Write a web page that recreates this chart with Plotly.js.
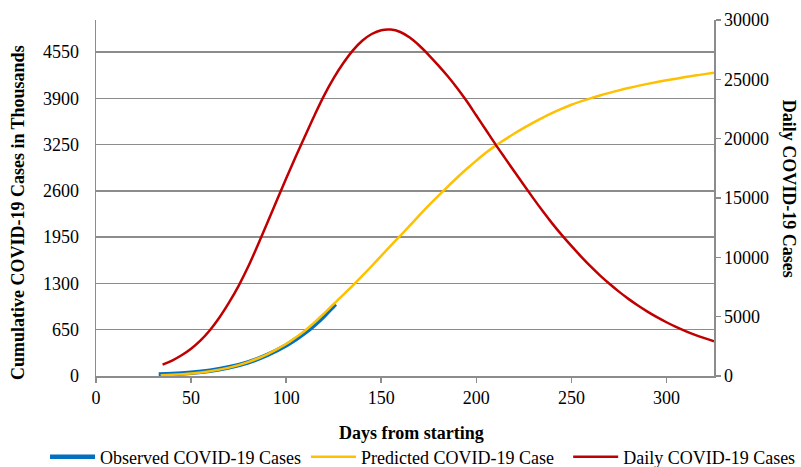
<!DOCTYPE html>
<html>
<head>
<meta charset="utf-8">
<script src="https://cdn.plot.ly/plotly-3.0.1.min.js"></script>
<style>html,body{margin:0;padding:0;background:#fff}#chart{width:801px;height:467px}</style>
</head>
<body>
<div id="chart"></div>
<script>
// Observed cumulative cases (thousands)
const obsDays = [33, 40, 50, 60, 70, 80, 90, 100, 105, 110, 115, 120, 125, 126];
const obsCum  = [22, 27, 45, 75, 122, 192, 295, 430, 515, 610, 720, 845, 985, 1010];

// Predicted cumulative cases (thousands)
const predDays = [34, 40, 50, 60, 70, 80, 90, 100, 105, 110, 115, 120, 125, 130, 135, 140, 145, 150, 155, 160, 165, 170, 175, 180, 185, 190, 195, 200, 205, 210, 215, 220, 225, 230, 235, 240, 245, 250, 255, 260, 265, 270, 275, 280, 285, 290, 295, 300, 305, 310, 315, 320, 325];
const predCum  = [12, 18, 36, 68, 118, 195, 305, 450, 540, 640, 755, 880, 1010, 1140, 1270, 1405, 1545, 1688, 1830, 1970, 2112, 2255, 2395, 2530, 2660, 2788, 2910, 3025, 3135, 3232, 3320, 3405, 3485, 3560, 3630, 3695, 3755, 3810, 3857, 3900, 3940, 3977, 4012, 4045, 4075, 4103, 4129, 4153, 4176, 4198, 4219, 4240, 4260];

// Daily cases
const dailyDays = [35, 40, 45, 50, 55, 60, 65, 70, 75, 80, 85, 90, 95, 100, 105, 110, 115, 120, 125, 130, 135, 140, 145, 150, 155, 160, 165, 170, 175, 180, 185, 190, 195, 200, 205, 210, 215, 220, 225, 230, 235, 240, 245, 250, 255, 260, 265, 270, 275, 280, 285, 290, 295, 300, 305, 310, 315, 320, 325];
const dailyVal  = [960, 1300, 1750, 2300, 3000, 3880, 4950, 6200, 7600, 9200, 11000, 12870, 14760, 16640, 18470, 20250, 22000, 23650, 25100, 26350, 27420, 28250, 28820, 29140, 29190, 28990, 28520, 27850, 27050, 26180, 25260, 24250, 23150, 21950, 20750, 19540, 18380, 17230, 16090, 14970, 13880, 12840, 11870, 10960, 10080, 9250, 8480, 7770, 7110, 6500, 5940, 5430, 4960, 4530, 4140, 3790, 3470, 3190, 2930];

const leftTicks = [0, 650, 1300, 1950, 2600, 3250, 3900, 4550];
const rightTicks = [0, 5000, 10000, 15000, 20000, 25000, 30000];
const xTicks = [0, 50, 100, 150, 200, 250, 300];

const FONT = 'Liberation Serif, Times New Roman, serif';
const GRID = '#8c8c8c';
const FS = 18;

const traces = [
  {x: obsDays, y: obsCum, type: 'scatter', mode: 'lines', name: 'Observed COVID-19 Cases',
   line: {color: '#0070C0', width: 4.5, shape: 'spline'}, yaxis: 'y', legend: 'legend'},
  {x: predDays, y: predCum, type: 'scatter', mode: 'lines', name: 'Predicted COVID-19 Case',
   line: {color: '#FFC000', width: 2.5, shape: 'spline'}, yaxis: 'y', legend: 'legend'},
  {x: dailyDays, y: dailyVal, type: 'scatter', mode: 'lines', name: 'Daily COVID-19 Cases',
   line: {color: '#C00000', width: 2.5, shape: 'spline'}, yaxis: 'y2', legend: 'legend2'}
];

const legendBase = {orientation: 'h', y: -0.176, xanchor: 'left', yanchor: 'top', itemwidth: 45,
  font: {family: FONT, size: FS, color: '#000'}, tracegroupgap: 0, bgcolor: 'rgba(0,0,0,0)'};

const layout = {
  width: 801, height: 467,
  margin: {l: 96, r: 87, t: 20, b: 91, autoexpand: false},
  paper_bgcolor: '#fff', plot_bgcolor: '#fff',
  font: {family: FONT, size: FS, color: '#000'},
  showlegend: true,
  legend: Object.assign({}, legendBase, {x: -0.0825}),
  legend2: Object.assign({}, legendBase, {x: 0.764}),
  xaxis: {range: [0, 325], tickvals: xTicks, ticktext: xTicks.map(String), showgrid: false, zeroline: false,
          showline: true, linecolor: GRID, linewidth: 1.5, ticks: 'outside', ticklen: 5, tickcolor: GRID, tickwidth: 1.5,
          tickfont: {family: FONT, size: FS, color: '#000'}},
  yaxis: {range: [0, 5000], tickvals: leftTicks, ticktext: leftTicks.map(String), showgrid: true, gridcolor: GRID, gridwidth: 1.5,
          zeroline: false, showline: true, linecolor: GRID, linewidth: 1.5, ticks: '', ticklabelstandoff: 12,
          tickfont: {family: FONT, size: FS, color: '#000'}},
  yaxis2: {range: [0, 30000], tickvals: rightTicks, ticktext: rightTicks.map(String), overlaying: 'y', side: 'right',
           showgrid: false, zeroline: false, showline: true, linecolor: GRID, linewidth: 1.5,
           ticks: 'outside', ticklen: 5, tickcolor: GRID, tickwidth: 1.5,
           tickfont: {family: FONT, size: FS, color: '#000'}},
  annotations: [
    {text: '<b>Days from starting</b>', xref: 'paper', yref: 'paper', x: 0.51, y: -0.16, showarrow: false,
     xanchor: 'center', yanchor: 'middle', font: {family: FONT, size: FS, color: '#000'}},
    {text: '<b>Cumulative COVID-19 Cases in Thousands</b>', xref: 'paper', yref: 'paper', x: -0.127, y: 0.459,
     showarrow: false, textangle: -90, xanchor: 'center', yanchor: 'middle', font: {family: FONT, size: FS, color: '#000'}},
    {text: '<b>Daily COVID-19 Cases</b>', xref: 'paper', yref: 'paper', x: 1.122, y: 0.525,
     showarrow: false, textangle: 90, xanchor: 'center', yanchor: 'middle', font: {family: FONT, size: FS, color: '#000'}}
  ]
};

Plotly.newPlot('chart', traces, layout, {displayModeBar: false, staticPlot: true});
</script>
</body>
</html>
